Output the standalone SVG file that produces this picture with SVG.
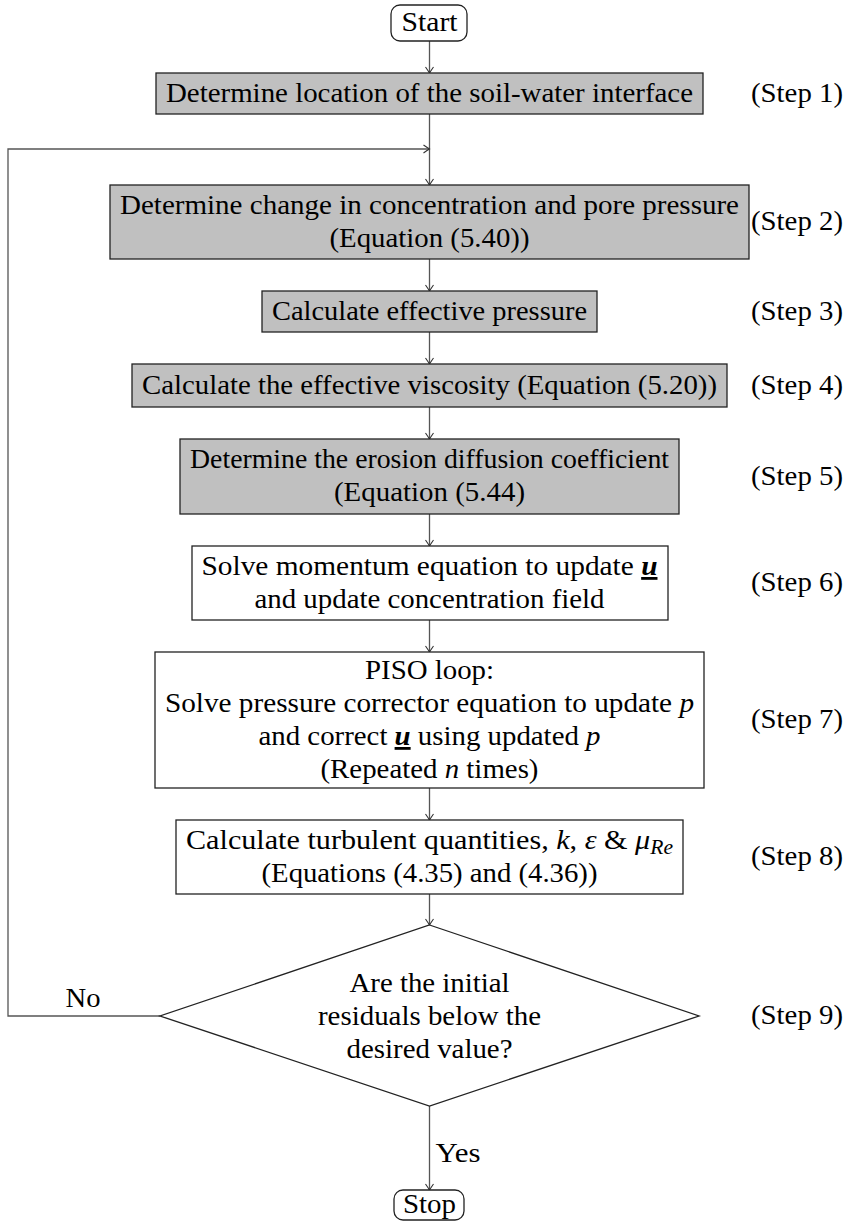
<svg xmlns="http://www.w3.org/2000/svg" width="849" height="1221" viewBox="0 0 849 1221" font-family="'Liberation Serif', 'DejaVu Serif', serif">
  <defs>
    <style>
      text { font-family: 'Liberation Serif', 'DejaVu Serif', serif; font-size: 28px; fill: #000; }
      .mid { text-anchor: middle; }
      .box { stroke: #222; stroke-width: 1.3; }
      .grey { fill: #c0c0c0; }
      .white { fill: #ffffff; }
      .conn { fill: none; stroke: #555; stroke-width: 1.3; }
      .m { font-style: italic; }
      .vec { font-style: italic; font-weight: bold; text-decoration: underline; }
    </style>
    <marker id="arr" markerUnits="userSpaceOnUse" markerWidth="12" markerHeight="12" viewBox="-8 -6 10 12" refX="0" refY="0" orient="auto">
      <path d="M -6 -4 Q -2 -1.2 0 0 Q -2 1.2 -6 4" fill="none" stroke="#333" stroke-width="1.1"/>
    </marker>
  </defs>

  <rect width="849" height="1221" fill="#ffffff"/>

  <!-- connectors -->
  <g id="connectors">
    <line class="conn" x1="429.5" y1="41" x2="429.5" y2="73" marker-end="url(#arr)"/>
    <line class="conn" x1="429.5" y1="114" x2="429.5" y2="185" marker-end="url(#arr)"/>
    <line class="conn" x1="429.5" y1="259" x2="429.5" y2="291" marker-end="url(#arr)"/>
    <line class="conn" x1="429.5" y1="332" x2="429.5" y2="364" marker-end="url(#arr)"/>
    <line class="conn" x1="429.5" y1="407" x2="429.5" y2="439" marker-end="url(#arr)"/>
    <line class="conn" x1="429.5" y1="514" x2="429.5" y2="546" marker-end="url(#arr)"/>
    <line class="conn" x1="429.5" y1="620" x2="429.5" y2="652" marker-end="url(#arr)"/>
    <line class="conn" x1="429.5" y1="788" x2="429.5" y2="820" marker-end="url(#arr)"/>
    <line class="conn" x1="429.5" y1="894" x2="429.5" y2="925" marker-end="url(#arr)"/>
    <line class="conn" x1="429.5" y1="1106" x2="429.5" y2="1190" marker-end="url(#arr)"/>
    <!-- "No" branch loops back above step 2 -->
    <path class="conn" d="M 160 1016 H 8 V 149 H 429.5" marker-end="url(#arr)"/>
    <text class="mid" x="83" y="1007" textLength="35" lengthAdjust="spacingAndGlyphs">No</text>
    <text class="mid" x="458" y="1162" textLength="45" lengthAdjust="spacingAndGlyphs">Yes</text>
  </g>

  <g id="start">
    <rect class="box white" x="391" y="5" width="76" height="36" rx="9"/>
    <text class="mid" x="429.5" y="31" textLength="56" lengthAdjust="spacingAndGlyphs">Start</text>
  </g>

  <g id="step1">
    <rect class="box grey" x="156" y="73" width="547" height="41"/>
    <text class="mid" x="429.5" y="102" textLength="527" lengthAdjust="spacingAndGlyphs">Determine location of the soil-water interface</text>
    <text class="mid" x="797" y="102" textLength="92" lengthAdjust="spacingAndGlyphs">(Step 1)</text>
  </g>

  <g id="step2">
    <rect class="box grey" x="110" y="185" width="639" height="74"/>
    <text class="mid" x="429.5" y="214" textLength="619" lengthAdjust="spacingAndGlyphs">Determine change in concentration and pore pressure</text>
    <text class="mid" x="429.5" y="247" textLength="200" lengthAdjust="spacingAndGlyphs">(Equation (5.40))</text>
    <text class="mid" x="797" y="230" textLength="92" lengthAdjust="spacingAndGlyphs">(Step 2)</text>
  </g>

  <g id="step3">
    <rect class="box grey" x="262" y="291" width="335" height="41"/>
    <text class="mid" x="429.5" y="320" textLength="315" lengthAdjust="spacingAndGlyphs">Calculate effective pressure</text>
    <text class="mid" x="797" y="320" textLength="92" lengthAdjust="spacingAndGlyphs">(Step 3)</text>
  </g>

  <g id="step4">
    <rect class="box grey" x="132" y="364" width="595" height="43"/>
    <text class="mid" x="429.5" y="394" textLength="575" lengthAdjust="spacingAndGlyphs">Calculate the effective viscosity (Equation (5.20))</text>
    <text class="mid" x="797" y="394" textLength="92" lengthAdjust="spacingAndGlyphs">(Step 4)</text>
  </g>

  <g id="step5">
    <rect class="box grey" x="180" y="439" width="499" height="75"/>
    <text class="mid" x="429.5" y="468" textLength="479" lengthAdjust="spacingAndGlyphs">Determine the erosion diffusion coefficient</text>
    <text class="mid" x="429.5" y="501" textLength="191" lengthAdjust="spacingAndGlyphs">(Equation (5.44)</text>
    <text class="mid" x="797" y="485" textLength="92" lengthAdjust="spacingAndGlyphs">(Step 5)</text>
  </g>

  <g id="step6">
    <rect class="box white" x="192" y="546" width="476" height="74"/>
    <text class="mid" x="429.5" y="575" textLength="456" lengthAdjust="spacingAndGlyphs">Solve momentum equation to update <tspan class="vec">u</tspan></text>
    <text class="mid" x="429.5" y="608" textLength="350" lengthAdjust="spacingAndGlyphs">and update concentration field</text>
    <text class="mid" x="797" y="591" textLength="92" lengthAdjust="spacingAndGlyphs">(Step 6)</text>
  </g>

  <g id="step7">
    <rect class="box white" x="155" y="652" width="549" height="136"/>
    <text class="mid" x="429.5" y="679" textLength="129" lengthAdjust="spacingAndGlyphs">PISO loop:</text>
    <text class="mid" x="429.5" y="712" textLength="529" lengthAdjust="spacingAndGlyphs">Solve pressure corrector equation to update <tspan class="m">p</tspan></text>
    <text class="mid" x="429.5" y="745" textLength="342" lengthAdjust="spacingAndGlyphs">and correct <tspan class="vec">u</tspan> using updated <tspan class="m">p</tspan></text>
    <text class="mid" x="429.5" y="778" textLength="218" lengthAdjust="spacingAndGlyphs">(Repeated <tspan class="m">n</tspan> times)</text>
    <text class="mid" x="797" y="728" textLength="92" lengthAdjust="spacingAndGlyphs">(Step 7)</text>
  </g>

  <g id="step8">
    <rect class="box white" x="176" y="820" width="507" height="74"/>
    <text class="mid" x="429.5" y="849" textLength="487" lengthAdjust="spacingAndGlyphs">Calculate turbulent quantities, <tspan class="m">k</tspan>, <tspan class="m">ε</tspan> &amp; <tspan class="m">μ</tspan><tspan class="m" font-size="20" dy="5">Re</tspan></text>
    <text class="mid" x="429.5" y="882" textLength="336" lengthAdjust="spacingAndGlyphs">(Equations (4.35) and (4.36))</text>
    <text class="mid" x="797" y="865" textLength="92" lengthAdjust="spacingAndGlyphs">(Step 8)</text>
  </g>

  <g id="step9">
    <polygon class="box white" points="429.5,925 699,1016 429.5,1106 160,1016"/>
    <text class="mid" x="429.5" y="992" textLength="160" lengthAdjust="spacingAndGlyphs">Are the initial</text>
    <text class="mid" x="429.5" y="1025" textLength="223" lengthAdjust="spacingAndGlyphs">residuals below the</text>
    <text class="mid" x="429.5" y="1058" textLength="166" lengthAdjust="spacingAndGlyphs">desired value?</text>
    <text class="mid" x="797" y="1024" textLength="92" lengthAdjust="spacingAndGlyphs">(Step 9)</text>
  </g>

  <g id="stop">
    <rect class="box white" x="394" y="1190" width="70" height="30" rx="9"/>
    <text class="mid" x="429.5" y="1213" textLength="53" lengthAdjust="spacingAndGlyphs">Stop</text>
  </g>
</svg>
